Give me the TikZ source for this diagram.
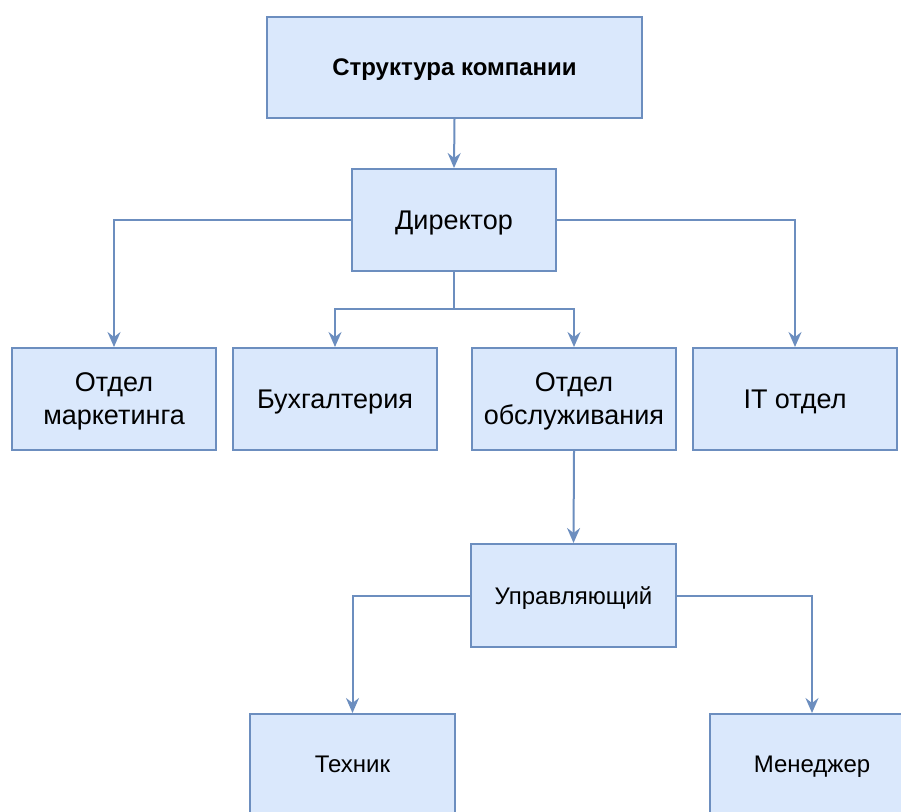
\documentclass[tikz,border=0pt]{standalone}
\usepackage{fontspec}
\setmainfont{Liberation Sans}
\usetikzlibrary{arrows.meta}
\definecolor{boxfill}{HTML}{DAE8FC}
\definecolor{boxline}{HTML}{6C8EBF}
\tikzset{
  box/.style={draw=boxline, fill=boxfill, line width=2pt, minimum width=204pt, minimum height=102pt, inner sep=0pt, align=center, text depth=0pt, font=\fontsize{27}{33}\selectfont},
  smallbox/.style={box, font=\fontsize{24}{28}\selectfont},
  arr/.style={draw=boxline, line width=2pt, -{Stealth[length=15pt,width=13pt,inset=5pt]}},
  ln/.style={draw=boxline, line width=2pt}
}
\begin{document}
\begin{tikzpicture}[x=1pt,y=-1pt]
\clip (0,0) rectangle (901,811);
\useasboundingbox (0,0) rectangle (901,811);
\node[box, minimum width=375pt, minimum height=101pt, font=\fontsize{24}{28}\selectfont\bfseries] (top) at (454.5,67) {Структура компании};
\node[box] (dir) at (454,220) {Директор};
\node[box] (mark) at (114,399) {Отдел\\маркетинга};
\node[box] (bux) at (335,399) {Бухгалтерия};
\node[box] (obs) at (574,399) {Отдел\\обслуживания};
\node[box] (it) at (795,399) {IT отдел};
\node[smallbox, minimum width=205pt, minimum height=103pt] (upr) at (573.5,595.5) {Управляющий};
\node[smallbox, minimum width=205pt, minimum height=100pt] (tech) at (352.5,764) {Техник};
\node[smallbox, minimum width=205pt, minimum height=100pt] (man) at (812,764) {Менеджер};
\coordinate (split) at (454,309);
\draw[arr] (top.south) -- (dir.north);
\draw[arr] (dir.west) -| (mark.north);
\draw[arr] (dir.east) -| (it.north);
\draw[ln] (dir.south) -- (split);
\draw[arr] (split) -| (bux.north);
\draw[arr] (split) -| (obs.north);
\draw[arr] (obs.south) -- (upr.north);
\draw[arr] (upr.west) -| (tech.north);
\draw[arr] (upr.east) -| (man.north);
\end{tikzpicture}
\end{document}
